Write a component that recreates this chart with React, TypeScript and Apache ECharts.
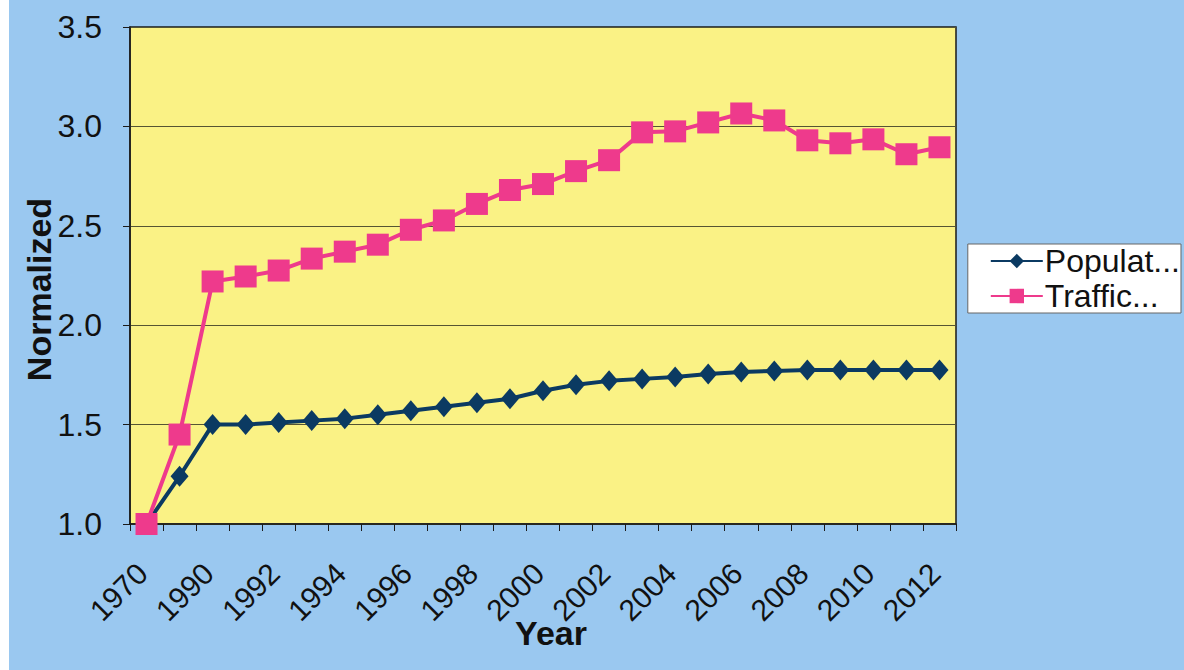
import React, { useEffect, useRef } from "react";
import * as echarts from "echarts";

const years = ["1970", "1980", "1990", "1991", "1992", "1993", "1994", "1995", "1996", "1997", "1998", "1999", "2000", "2001", "2002", "2003", "2004", "2005", "2006", "2007", "2008", "2009", "2010", "2011", "2012"];
const population = [1.0, 1.24, 1.5, 1.5, 1.51, 1.52, 1.53, 1.55, 1.57, 1.59, 1.61, 1.63, 1.67, 1.7, 1.72, 1.73, 1.74, 1.755, 1.765, 1.77, 1.775, 1.775, 1.775, 1.775, 1.775];
const traffic = [1.0, 1.45, 2.22, 2.245, 2.275, 2.335, 2.37, 2.405, 2.48, 2.527, 2.61, 2.68, 2.71, 2.775, 2.83, 2.97, 2.975, 3.02, 3.065, 3.03, 2.93, 2.915, 2.935, 2.86, 2.895];
const seriesNames = ["Populat...", "Traffic..."];
const yTicks = { min: 1.0, max: 3.5, interval: 0.5 };

const FONT = "'Liberation Sans', Arial, sans-serif";

export default function App() {
  const ref = useRef<HTMLDivElement>(null);
  useEffect(() => {
    if (!ref.current) return;
    const chart = echarts.init(ref.current, undefined, { renderer: "svg" });
    chart.setOption({
      animation: false,
      backgroundColor: "#9AC8F0",
      textStyle: { fontFamily: FONT },
      grid: {
        left: 121,
        right: 228,
        top: 27,
        bottom: 146,
        containLabel: false,
        outerBoundsMode: "none",
        show: true,
        backgroundColor: "#FAF285",
        borderColor: "#1a1a1a",
        borderWidth: 1.5,
      },
      legend: {
        orient: "vertical",
        right: 3,
        top: 244,
        backgroundColor: "#FFFFFF",
        borderColor: "#666",
        borderWidth: 1,
        borderRadius: 0,
        padding: [1, 1, 1, 22],
        itemGap: 3,
        itemWidth: 52,
        itemHeight: 18,
        textStyle: { fontSize: 32, color: "#111", fontFamily: FONT, padding: [0, 0, 0, -3] },
        data: seriesNames,
      },
      xAxis: {
        type: "category",
        data: years,
        boundaryGap: true,
        name: "Year",
        nameLocation: "middle",
        nameGap: 92,
        nameMoveOverlap: false,
        nameTextStyle: { fontSize: 34, fontWeight: "bold", color: "#111", fontFamily: FONT, padding: [0, 0, 0, 16] },
        axisLine: { lineStyle: { color: "#1a1a1a", width: 1.5 } },
        axisTick: { show: true, interval: 0, length: 7, lineStyle: { color: "#1a1a1a" } },
        axisLabel: { interval: 1, rotate: 45, fontSize: 30, color: "#111", margin: 40, padding: [0, 6, 0, 0], fontFamily: FONT },
        splitLine: { show: false },
      },
      yAxis: {
        type: "value",
        min: yTicks.min,
        max: yTicks.max,
        interval: yTicks.interval,
        name: "Normalized",
        nameLocation: "middle",
        nameGap: 74,
        nameMoveOverlap: false,
        nameTextStyle: { fontSize: 34, fontWeight: "bold", color: "#111", fontFamily: FONT, padding: [0, 28, 0, 0] },
        axisLine: { show: true, lineStyle: { color: "#1a1a1a", width: 1.5 } },
        axisTick: { show: true, inside: false, length: 7, lineStyle: { color: "#1a1a1a" } },
        axisLabel: { fontSize: 32, color: "#111", margin: 28, fontFamily: FONT, formatter: (v: number) => v.toFixed(1) },
        splitLine: { show: true, lineStyle: { color: "#555533", width: 1.2 } },
      },
      series: [
        {
          name: seriesNames[0],
          type: "line",
          data: population,
          showAllSymbol: true,
          symbol: "diamond",
          symbolSize: [18, 21],
          itemStyle: { color: "#0B3A62" },
          lineStyle: { color: "#0B3A62", width: 4 },
        },
        {
          name: seriesNames[1],
          type: "line",
          data: traffic,
          showAllSymbol: true,
          symbol: "rect",
          symbolSize: 22,
          itemStyle: { color: "#EE3A8C" },
          lineStyle: { color: "#EE3A8C", width: 4 },
        },
      ],
    });
    return () => chart.dispose();
  }, []);
  return (
    <div style={{ position: "fixed", left: 0, top: 0, width: 1184, height: 670, background: "#FFFFFF" }}>
      <div ref={ref} style={{ position: "absolute", left: 9, top: 0, width: 1175, height: 670 }} />
    </div>
  );
}
